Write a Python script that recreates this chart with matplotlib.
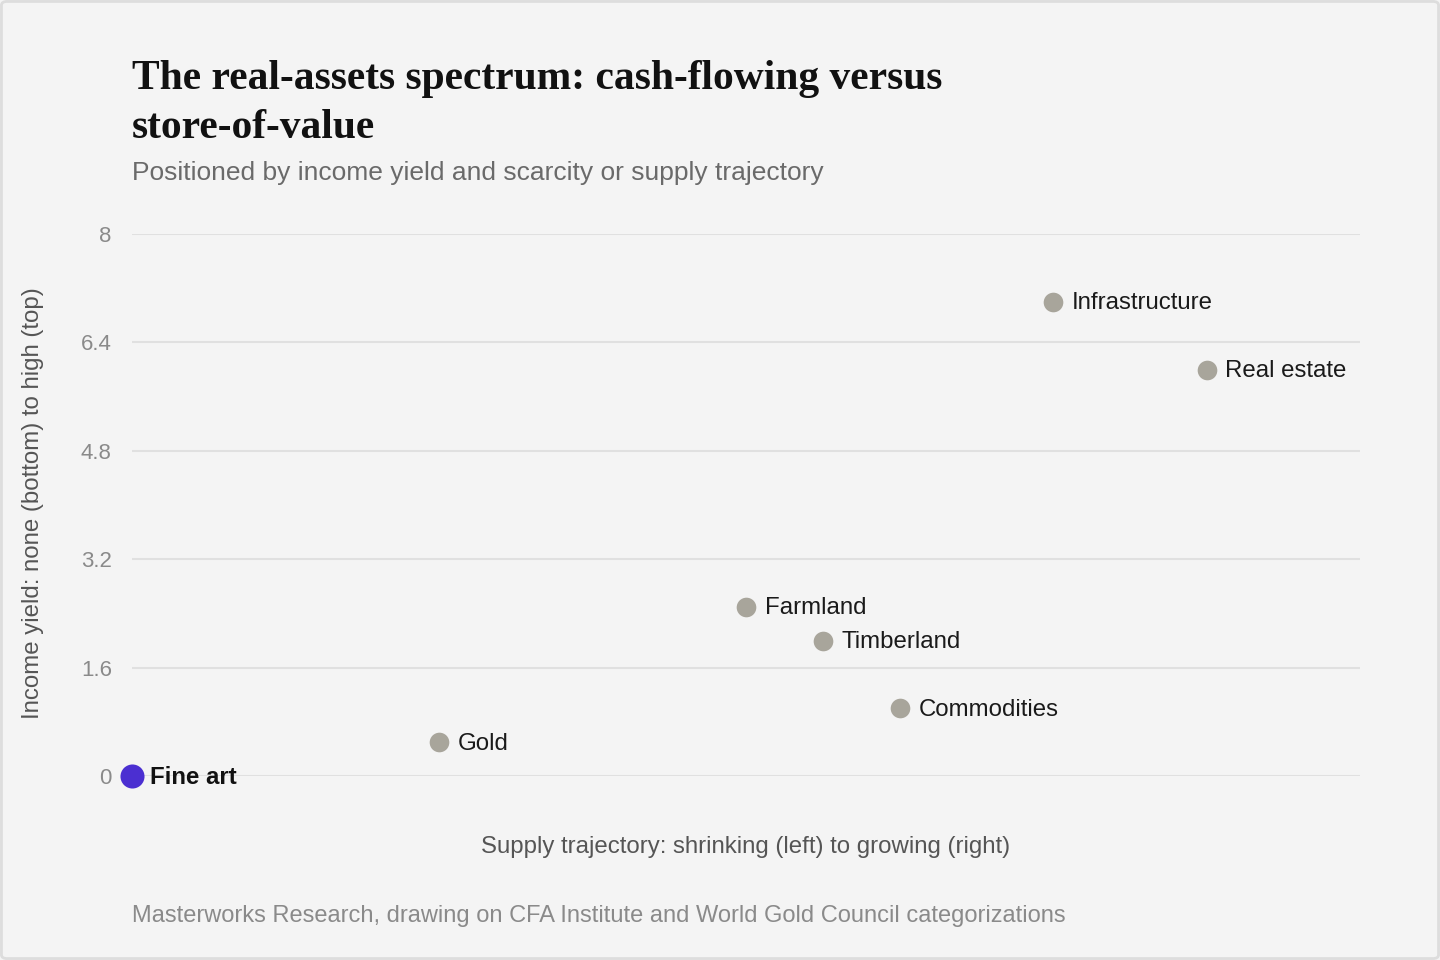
import matplotlib
matplotlib.use('Agg')
import matplotlib.pyplot as plt
from matplotlib.patches import FancyBboxPatch

# asset positions: x = supply trajectory, y = income yield
assets = ['Fine art', 'Gold', 'Farmland', 'Timberland', 'Commodities', 'Infrastructure', 'Real estate']
supply = [0, 4, 8, 9, 10, 12, 14]
income = [0, 0.5, 2.5, 2.0, 1.0, 7.0, 6.0]
y_ticks = [0, 1.6, 3.2, 4.8, 6.4, 8]
y_tick_labels = ['0', '1.6', '3.2', '4.8', '6.4', '8']
highlight = 'Fine art'

BG = '#f4f4f4'
GRAY_DOT = '#a8a59b'
PURPLE = '#4b2fd1'
SERIF = ['Liberation Serif', 'DejaVu Serif']

plt.rcParams['font.family'] = ['Liberation Sans', 'DejaVu Sans']

fig = plt.figure(figsize=(14.4, 9.6), dpi=100)
fig.patch.set_facecolor(BG)

# light rounded frame round the card
frame = FancyBboxPatch((0.001, 0.0015), 0.998, 0.997, boxstyle='round,pad=0,rounding_size=0.004',
                       transform=fig.transFigure, facecolor='none', edgecolor='#dddddd', linewidth=2)
fig.patches.append(frame)

ax = fig.add_axes([132 / 1440, 1 - 776 / 960, (1360 - 132) / 1440, (776 - 234) / 960])
ax.set_facecolor(BG)
ax.set_xlim(0, 16)
ax.set_ylim(0, 8)
ax.set_xticks([])
ax.set_yticks(y_ticks)
ax.set_yticklabels(y_tick_labels)
ax.tick_params(axis='y', length=0, pad=14.5, labelsize=16, labelcolor='#8a8a8a')
for s in ax.spines.values():
    s.set_visible(False)
ax.grid(axis='y', color='#e0e0e0', linewidth=1.5)
ax.set_axisbelow(True)

for name, x, y in zip(assets, supply, income):
    if name == highlight:
        ax.scatter(x, y, s=300, color=PURPLE, zorder=3, clip_on=False, linewidths=0)
        ax.annotate(name, (x, y), xytext=(13, -1), textcoords='offset points', va='center', ha='left',
                    fontsize=17.3, fontweight='bold', color='#111111', annotation_clip=False)
    else:
        ax.scatter(x, y, s=200, color=GRAY_DOT, zorder=3, clip_on=False, linewidths=0)
        ax.annotate(name, (x, y), xytext=(13.5, -1), textcoords='offset points', va='center', ha='left',
                    fontsize=17.3, color='#1a1a1a', annotation_clip=False)

ax.set_xlabel('Supply trajectory: shrinking (left) to growing (right)', fontsize=17.3, color='#555555', labelpad=43)
fig.text(33 / 1440, 1 - 503 / 960, 'Income yield: none (bottom) to high (top)', rotation=90,
         ha='center', va='center', fontsize=17.3, color='#555555')

fig.text(132 / 1440, 1 - 89 / 960, 'The real-assets spectrum: cash-flowing versus',
         ha='left', va='baseline', fontsize=29.9, fontweight='bold', family=SERIF, color='#111111')
fig.text(132 / 1440, 1 - 138 / 960, 'store-of-value',
         ha='left', va='baseline', fontsize=29.9, fontweight='bold', family=SERIF, color='#111111')
fig.text(132 / 1440, 1 - 173 / 960, 'Positioned by income yield and scarcity or supply trajectory',
         ha='left', va='center', fontsize=19, color='#6a6a6a')
fig.text(132 / 1440, 1 - 916 / 960, 'Masterworks Research, drawing on CFA Institute and World Gold Council categorizations',
         ha='left', va='center', fontsize=17, color='#8a8a8a')

fig.savefig('out.png', dpi=100, facecolor=BG)
